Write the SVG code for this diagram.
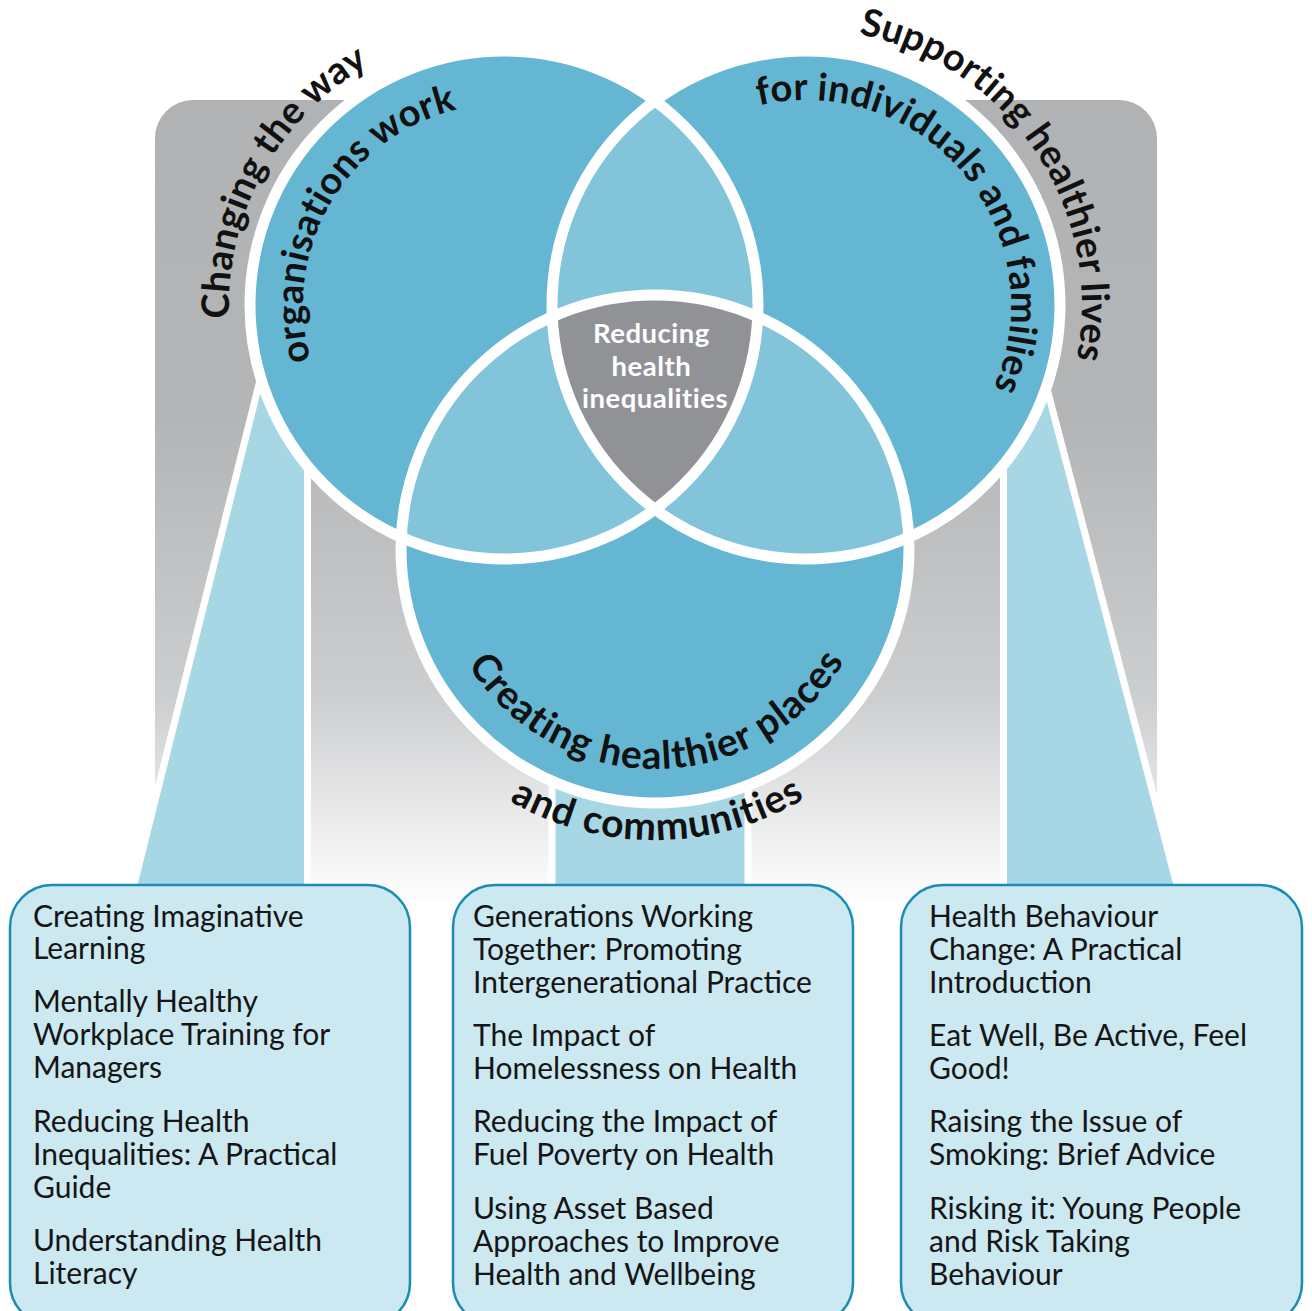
<svg xmlns="http://www.w3.org/2000/svg" width="1312" height="1311" viewBox="0 0 1312 1311">
  <style>
    .arc { font-family: Lato, "Liberation Sans", sans-serif; font-weight: 700; font-size: 38px; fill: #111; letter-spacing: 0.2px; }
    .arcb { font-family: Lato, "Liberation Sans", sans-serif; font-weight: 700; font-size: 39px; fill: #111; letter-spacing: 1px; }
    .item { font-family: Lato, "Liberation Sans", sans-serif; font-weight: 400; font-size: 30px; fill: #151515; }
    .center { font-family: Lato, "Liberation Sans", sans-serif; font-weight: 700; font-size: 27.5px; fill: #ffffff; letter-spacing: 0.5px; }
    .box { fill: #cce8f1; stroke: #1a8db5; stroke-width: 2.5; }
    .funnel { fill: #a7d6e5; stroke: #ffffff; stroke-width: 7; stroke-linejoin: miter; }
    .circ { fill: #64b6d3; }
    .lens { fill: #82c4da; }
    .ring { fill: none; stroke: #ffffff; stroke-width: 11; }
  </style>
  <defs>
    <linearGradient id="greyGrad" gradientUnits="userSpaceOnUse" x1="0" y1="100" x2="0" y2="885">
      <stop offset="0" stop-color="#b1b2b4"/>
      <stop offset="0.41" stop-color="#b4b5b7"/>
      <stop offset="0.764" stop-color="#cdced0"/>
      <stop offset="1" stop-color="#fbfbfb"/>
    </linearGradient>
    <clipPath id="clipL"><circle cx="504" cy="305" r="254"/></clipPath>
    <clipPath id="clipR"><circle cx="806" cy="305" r="254"/></clipPath>
    <path id="pOuterL" d="M 268.5 447 A 275 275 0 0 1 498.7 30.1"/>
    <path id="pInnerL" d="M 349.4 433.4 A 201 201 0 0 1 539.9 107.2"/>
    <path id="pOuterR" d="M 740.2 37 A 276 276 0 0 1 1028.7 468"/>
    <path id="pInnerR" d="M 720.3 118.8 A 205 205 0 0 1 973.3 423.5"/>
    <path id="pInnerB" d="M 449.1 626.4 A 220 220 0 0 0 862.5 622.1"/>
    <path id="pOuterB" d="M 404.5 697.1 A 291 291 0 0 0 908.5 691.9"/>
  </defs>

  <rect id="background" x="155" y="100" width="1002" height="800" rx="38" fill="url(#greyGrad)"/>

  <g id="connectors">
    <polygon class="funnel" points="280,300 307.5,300 307.5,890 132.7,890"/>
    <polygon class="funnel" points="552,700 748,700 748,890 552,890"/>
    <polygon class="funnel" points="1003.5,300 1023.8,300 1178.3,890 1003.5,890"/>
  </g>

  <g id="venn">
    <circle class="circ" cx="504" cy="305" r="254"/>
    <circle class="circ" cx="806" cy="305" r="254"/>
    <circle class="circ" cx="655" cy="549" r="254"/>
    <circle class="lens" cx="806" cy="305" r="254" clip-path="url(#clipL)"/>
    <circle class="lens" cx="655" cy="549" r="254" clip-path="url(#clipL)"/>
    <circle class="lens" cx="655" cy="549" r="254" clip-path="url(#clipR)"/>
    <g clip-path="url(#clipL)">
      <circle cx="655" cy="549" r="254" fill="#919296" clip-path="url(#clipR)"/>
    </g>
    <circle class="ring" cx="504" cy="305" r="254"/>
    <circle class="ring" cx="806" cy="305" r="254"/>
    <circle class="ring" cx="655" cy="549" r="254"/>
  </g>

  <g id="node-organisations">
    <text class="arc"><textPath href="#pOuterL" startOffset="50%" text-anchor="middle">Changing the way</textPath></text>
    <text class="arc"><textPath href="#pInnerL" startOffset="50%" text-anchor="middle">organisations work</textPath></text>
  </g>
  <g id="node-individuals">
    <text class="arc"><textPath href="#pOuterR" startOffset="50%" text-anchor="middle">Supporting healthier lives</textPath></text>
    <text class="arc"><textPath href="#pInnerR" startOffset="50%" text-anchor="middle">for individuals and families</textPath></text>
  </g>
  <g id="node-places">
    <text class="arcb"><textPath href="#pInnerB" startOffset="50%" text-anchor="middle">Creating healthier places</textPath></text>
    <text class="arcb"><textPath href="#pOuterB" startOffset="50%" text-anchor="middle">and communities</textPath></text>
  </g>
  <g id="node-centre">
    <text class="center" text-anchor="middle">
      <tspan x="655" y="343">Reducing</tspan>
      <tspan x="655" y="376">health</tspan>
      <tspan x="655" y="408">inequalities</tspan>
    </text>
  </g>

  <g id="box-left">
    <rect class="box" x="10" y="885" width="400" height="440" rx="42"/>
    <text class="item">
      <tspan x="33" y="927">Creating Imaginative</tspan>
      <tspan x="33" y="959">Learning</tspan>
      <tspan x="33" y="1012">Mentally Healthy</tspan>
      <tspan x="33" y="1045">Workplace Training for</tspan>
      <tspan x="33" y="1078">Managers</tspan>
      <tspan x="33" y="1132">Reducing Health</tspan>
      <tspan x="33" y="1165">Inequalities: A Practical</tspan>
      <tspan x="33" y="1198">Guide</tspan>
      <tspan x="33" y="1251">Understanding Health</tspan>
      <tspan x="33" y="1284">Literacy</tspan>
    </text>
  </g>
  <g id="box-middle">
    <rect class="box" x="453" y="885" width="400" height="440" rx="42"/>
    <text class="item">
      <tspan x="473" y="927">Generations Working</tspan>
      <tspan x="473" y="960">Together: Promoting</tspan>
      <tspan x="473" y="993">Intergenerational Practice</tspan>
      <tspan x="473" y="1046">The Impact of</tspan>
      <tspan x="473" y="1079">Homelessness on Health</tspan>
      <tspan x="473" y="1132">Reducing the Impact of</tspan>
      <tspan x="473" y="1165">Fuel Poverty on Health</tspan>
      <tspan x="473" y="1219">Using Asset Based</tspan>
      <tspan x="473" y="1252">Approaches to Improve</tspan>
      <tspan x="473" y="1285">Health and Wellbeing</tspan>
    </text>
  </g>
  <g id="box-right">
    <rect class="box" x="901" y="885" width="401" height="440" rx="42"/>
    <text class="item">
      <tspan x="929" y="927">Health Behaviour</tspan>
      <tspan x="929" y="960">Change: A Practical</tspan>
      <tspan x="929" y="993">Introduction</tspan>
      <tspan x="929" y="1046">Eat Well, Be Active, Feel</tspan>
      <tspan x="929" y="1079">Good!</tspan>
      <tspan x="929" y="1132">Raising the Issue of</tspan>
      <tspan x="929" y="1165">Smoking: Brief Advice</tspan>
      <tspan x="929" y="1219">Risking it: Young People</tspan>
      <tspan x="929" y="1252">and Risk Taking</tspan>
      <tspan x="929" y="1285">Behaviour</tspan>
    </text>
  </g>
</svg>
